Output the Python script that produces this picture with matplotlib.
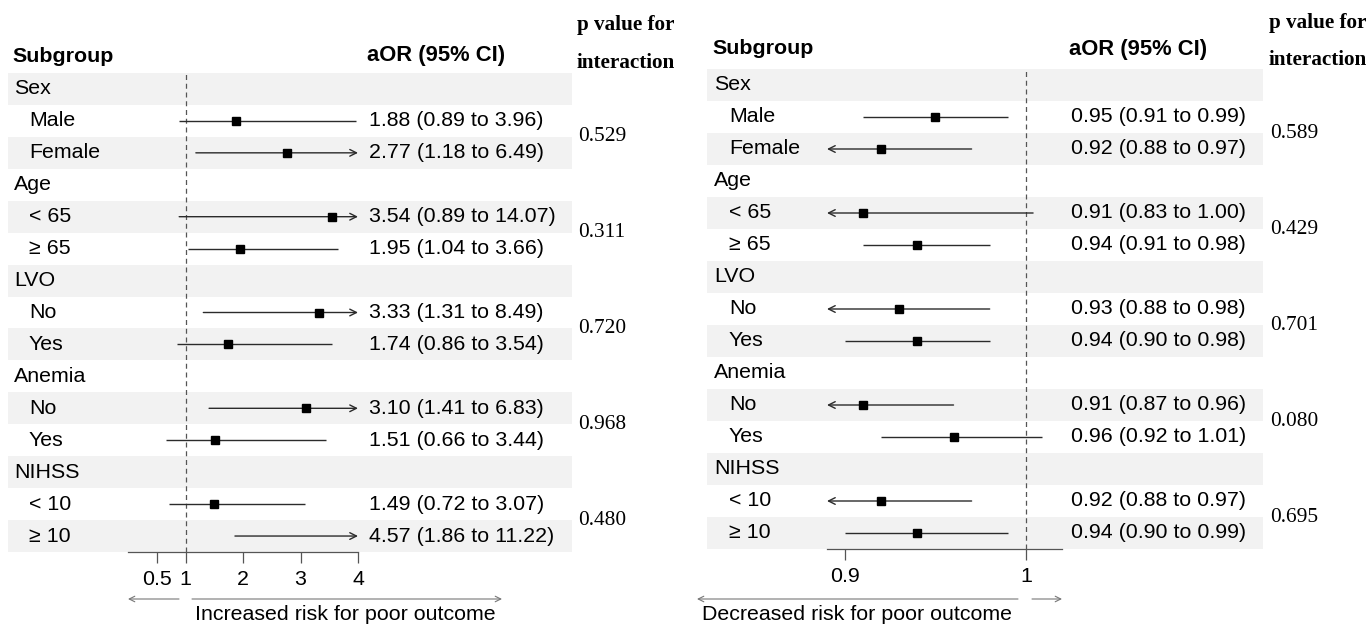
import matplotlib
matplotlib.use("Agg")
import matplotlib.pyplot as plt
from matplotlib.patches import Rectangle, FancyArrowPatch
from matplotlib.transforms import blended_transform_factory

plt.rcParams['font.family'] = ['Liberation Sans', 'DejaVu Sans']

# ---------------- data ----------------
groups = ["Sex", "Age", "LVO", "Anemia", "NIHSS"]
sublabels = [["Male", "Female"], ["< 65", "≥ 65"], ["No", "Yes"], ["No", "Yes"], ["< 10", "≥ 10"]]

left_est = [1.88, 2.77, 3.54, 1.95, 3.33, 1.74, 3.10, 1.51, 1.49, 4.57]
left_lo = [0.89, 1.18, 0.89, 1.04, 1.31, 0.86, 1.41, 0.66, 0.72, 1.86]
left_hi = [3.96, 6.49, 14.07, 3.66, 8.49, 3.54, 6.83, 3.44, 3.07, 11.22]
left_p = ["0.529", "0.311", "0.720", "0.968", "0.480"]
left_ticks = [0.5, 1, 2, 3, 4]
left_ticklabels = ["0.5", "1", "2", "3", "4"]

right_est = [0.95, 0.92, 0.91, 0.94, 0.93, 0.94, 0.91, 0.96, 0.92, 0.94]
right_lo = [0.91, 0.88, 0.83, 0.91, 0.88, 0.90, 0.87, 0.92, 0.88, 0.90]
right_hi = [0.99, 0.97, 1.004, 0.98, 0.98, 0.98, 0.96, 1.009, 0.97, 0.99]
right_p = ["0.589", "0.429", "0.701", "0.080", "0.695"]
right_ticks = [0.9, 1]
right_ticklabels = ["0.9", "1"]

W, H = 1372, 626
fig = plt.figure(figsize=(W / 100, H / 100), dpi=100)

def fx(px):
    return px / W

def fy(py):
    return 1 - py / H

FS = 15.4
LINE_C = "#2b2b2b"
AX_C = "#555555"


def panel(est, lo, hi, pvals, ticks, ticklabels, xlim, ax_x0, ax_x1, top, bottom,
          stripe_x0, stripe_x1, lab_x, sub_x, ci_x, p_x, head_y, phead_y1, phead_y2,
          bottom_text, text_cx, arrows, arrow_y):
    ax = fig.add_axes([fx(ax_x0), fy(bottom), fx(ax_x1) - fx(ax_x0), (bottom - top) / H])
    ax.patch.set_visible(False)
    ax.set_xlim(*xlim)
    nrows = len(groups) + sum(len(s) for s in sublabels)
    ax.set_ylim(nrows, 0)
    for s in ["top", "left", "right"]:
        ax.spines[s].set_visible(False)
    ax.spines["bottom"].set_color(AX_C)
    ax.spines["bottom"].set_linewidth(0.9)
    ax.set_yticks([])
    ax.set_xticks(ticks)
    ax.set_xticklabels(ticklabels)
    ax.tick_params(axis="x", direction="out", length=8, width=0.9, color=AX_C,
                   labelsize=FS, pad=5, labelcolor="black")

    tr = blended_transform_factory(fig.transFigure, ax.transData)

    # stripes
    for i in range(nrows):
        if i % 2 == 0:
            ax.add_patch(Rectangle((fx(stripe_x0), i), fx(stripe_x1) - fx(stripe_x0), 1,
                                   transform=tr, facecolor="#f2f2f2", edgecolor="none",
                                   clip_on=False, zorder=0))

    ax.axvline(1, color=AX_C, lw=0.9, ls=(0, (4, 3)), zorder=1)

    xmin, xmax = xlim
    row = 0
    k = 0
    for g, subs in zip(groups, sublabels):
        ax.text(fx(lab_x), row + 0.5, g, transform=tr, va="center", ha="left", fontsize=FS)
        first = row + 1
        row += 1
        for s in subs:
            y = row + 0.5
            ax.text(fx(sub_x), y, s, transform=tr, va="center", ha="left", fontsize=FS)
            e, l, h = est[k], lo[k], hi[k]
            lc, hc = max(l, xmin), min(h, xmax)
            if h > xmax:
                ax.annotate("", xy=(xmax, y), xytext=(lc, y),
                            arrowprops=dict(arrowstyle="->", lw=1.0, color=LINE_C,
                                            shrinkA=0, shrinkB=0, mutation_scale=12))
            elif l < xmin:
                ax.annotate("", xy=(xmin, y), xytext=(hc, y),
                            arrowprops=dict(arrowstyle="->", lw=1.0, color=LINE_C,
                                            shrinkA=0, shrinkB=0, mutation_scale=12))
            else:
                ax.plot([l, h], [y, y], color=LINE_C, lw=1.0, zorder=2, solid_capstyle="butt")
            if xmin <= e <= xmax:
                ax.plot([e], [y], marker="s", color="black", markersize=5.5, zorder=3, lw=0)
            ax.text(fx(ci_x), y, f"{e:.2f} ({l:.2f} to {h:.2f})", transform=tr,
                    va="center", ha="left", fontsize=FS)
            row += 1
            k += 1
        ax.text(fx(p_x), first + 1, pvals[groups.index(g)], transform=tr, va="center",
                ha="left", fontsize=FS, family=["Liberation Serif", "DejaVu Serif"])

    # headers
    fig.text(fx(lab_x - 2), fy(head_y), "Subgroup", fontsize=FS, fontweight="bold",
             va="center", ha="left")
    fig.text(fx(ci_x - 2), fy(head_y), "aOR (95% CI)", fontsize=FS + 0.4, fontweight="bold",
             va="center", ha="left")
    fig.text(fx(p_x - 1), fy(phead_y1), "p value for", fontsize=15.2, fontweight="bold",
             va="center", ha="left", family=["Liberation Serif", "DejaVu Serif"])
    fig.text(fx(p_x - 1), fy(phead_y2), "interaction", fontsize=15.2, fontweight="bold",
             va="center", ha="left", family=["Liberation Serif", "DejaVu Serif"])

    # bottom arrows and label
    for (a, b) in arrows:
        fig.add_artist(FancyArrowPatch((fx(a), fy(arrow_y)), (fx(b), fy(arrow_y)),
                                       transform=fig.transFigure, arrowstyle="->",
                                       mutation_scale=10, color="#777777", lw=0.8,
                                       shrinkA=0, shrinkB=0))
    fig.text(fx(text_cx), fy(615), bottom_text, fontsize=FS, va="center", ha="center")
    return ax


panel(left_est, left_lo, left_hi, left_p, left_ticks, left_ticklabels, (0, 4),
      128, 358, 73, 552, 8, 572, 14, 29, 369, 578, 56, 25, 63,
      "Increased risk for poor outcome", 345, [(179, 128), (192, 502)], 599)

panel(right_est, right_lo, right_hi, right_p, right_ticks, right_ticklabels, (0.89, 1.02),
      827, 1062, 69, 549, 707, 1263, 714, 729, 1071, 1270, 49, 23, 60,
      "Decreased risk for poor outcome", 857, [(1018, 697), (1032, 1062)], 599)

fig.savefig("out.png", dpi=100)
